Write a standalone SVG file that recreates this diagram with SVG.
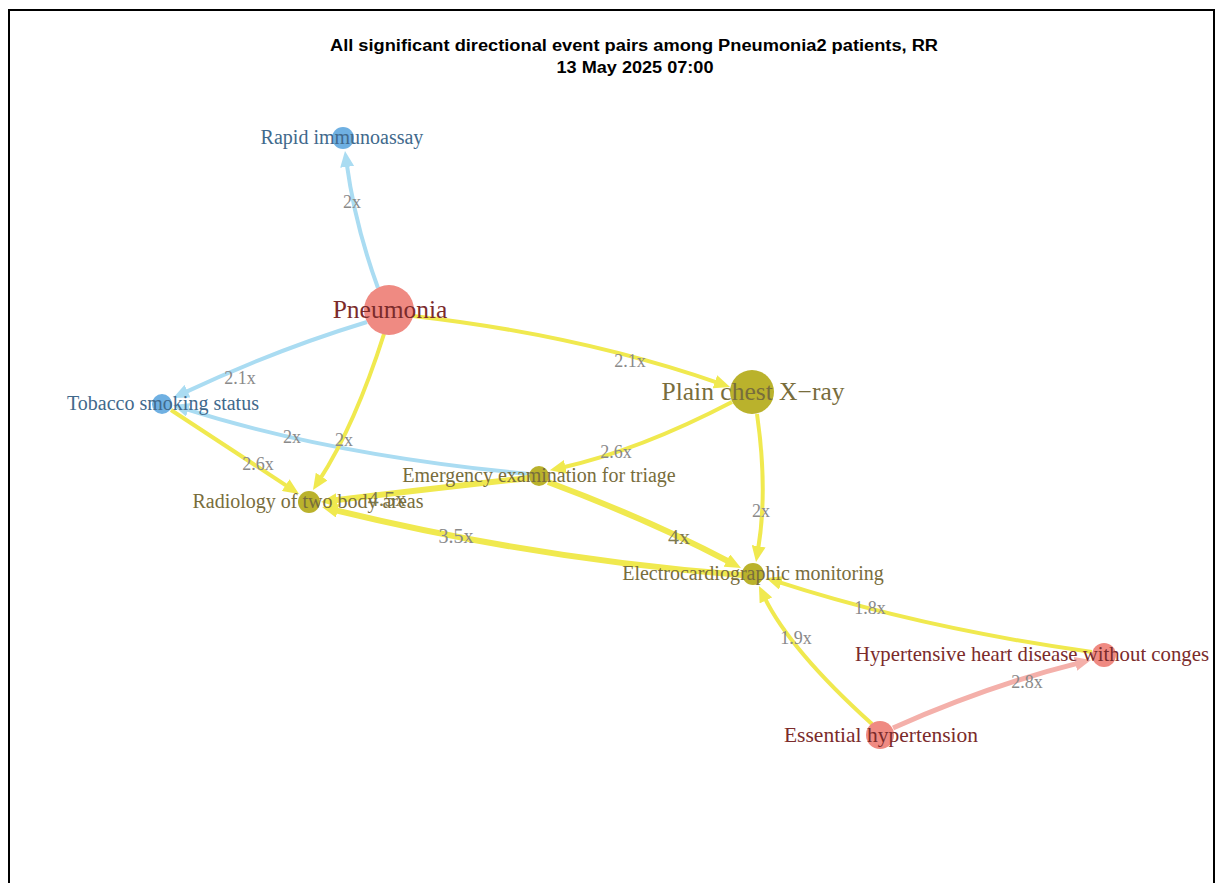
<svg xmlns="http://www.w3.org/2000/svg" width="1217" height="883" viewBox="0 0 1217 883">
<style>
.title{font-family:"Liberation Sans",Arial,sans-serif;font-weight:bold;font-size:16px;fill:#000;text-anchor:middle}
.lbl{font-family:"Liberation Serif","Times New Roman",serif;font-size:20px;text-anchor:middle}
.big{font-size:25.5px}
.pl{font-size:21.5px}
.blue{fill:#41698c}
.pink{fill:#7b2b2b}
.olive{fill:#786d3c}
.el{font-family:"Liberation Serif","Times New Roman",serif;font-size:18px;fill:#8a8a8a;text-anchor:middle}
.el2{font-size:22px;fill:#7e7a50}
.ey{fill:none;stroke:#f0e94f;stroke-width:4}
.eyt{fill:none;stroke:#f0e94f;stroke-width:6}
.eb{fill:none;stroke:#aadcf2;stroke-width:4}
.ep{fill:none;stroke:#f4b0aa;stroke-width:5}
.nb{fill:#6fb0e2}
.np{fill:#ef8a82}
.no{fill:#bab22c}
</style>
<defs>
<marker id="ay" markerUnits="userSpaceOnUse" viewBox="0 0 16 14" markerWidth="16" markerHeight="14" refX="4" refY="7" orient="auto"><path d="M0,0 L16,7 L0,14 z" fill="#f0e94f"/></marker>
<marker id="ab" markerUnits="userSpaceOnUse" viewBox="0 0 16 14" markerWidth="16" markerHeight="14" refX="4" refY="7" orient="auto"><path d="M0,0 L16,7 L0,14 z" fill="#aadcf2"/></marker>
<marker id="ap" markerUnits="userSpaceOnUse" viewBox="0 0 16 14" markerWidth="16" markerHeight="14" refX="4" refY="7" orient="auto"><path d="M0,0 L16,7 L0,14 z" fill="#f4b0aa"/></marker>
</defs>
<rect x="9" y="10" width="1205" height="880" fill="#fff" stroke="#000" stroke-width="2"/>
<text class="title" x="634" y="51" textLength="608" lengthAdjust="spacingAndGlyphs">All significant directional event pairs among Pneumonia2 patients, RR</text>
<text class="title" x="635" y="73" textLength="157" lengthAdjust="spacingAndGlyphs">13 May 2025 07:00</text>
<g id="connectors">
<path class="eb" marker-end="url(#ab)" d="M378,288 Q355,225 346.6,162.9"/>
<path class="eb" marker-end="url(#ab)" d="M367,322 Q275,350 183.9,392.9"/>
<path class="eb" marker-end="url(#ab)" d="M529,474 Q330,455 184.4,408.6"/>
<path class="ey" marker-end="url(#ay)" d="M384,334 Q355,425 319.5,479.9"/>
<path class="ey" marker-end="url(#ay)" d="M413,316 Q580,335 718.7,383.1"/>
<path class="ey" marker-end="url(#ay)" d="M171,410 L289,487.4"/>
<path class="ey" marker-end="url(#ay)" d="M732,402 Q640,450 561.5,467.7"/>
<path class="eyt" marker-end="url(#ay)" d="M529,478 Q420,490 332.9,500.6"/>
<path class="eyt" marker-end="url(#ay)" d="M742,575 Q540,560 333.7,509.8"/>
<path class="eyt" marker-end="url(#ay)" d="M548,482 Q650,520 730.4,562.4"/>
<path class="ey" marker-end="url(#ay)" d="M757,414 Q768,490 758,550.2"/>
<path class="ey" marker-end="url(#ay)" d="M1092,652 Q920,628 777.4,581.7"/>
<path class="ey" marker-end="url(#ay)" d="M872,724 Q790,650 764.2,596.8"/>
<path class="ep" marker-end="url(#ap)" d="M893,728 Q990,685 1079.3,662.9"/>
<text class="el" x="352" y="208">2x</text>
<text class="el" x="240" y="384">2.1x</text>
<text class="el" x="292" y="443">2x</text>
<text class="el" x="344" y="446">2x</text>
<text class="el" x="630" y="367">2.1x</text>
<text class="el" x="258" y="470">2.6x</text>
<text class="el" x="616" y="458">2.6x</text>
<text class="el el2" x="387" y="506">4.5x</text>
<text class="el" x="456" y="543" style="font-size:20px">3.5x</text>
<text class="el el2" x="679" y="544">4x</text>
<text class="el" x="761" y="517">2x</text>
<text class="el" x="870" y="614">1.8x</text>
<text class="el" x="796" y="644">1.9x</text>
<text class="el" x="1027" y="688">2.8x</text>
</g>
<g id="n-rapid"><circle class="nb" cx="343" cy="138" r="11"/><text class="lbl blue" x="342" y="144">Rapid immunoassay</text></g>
<g id="n-tobacco"><circle class="nb" cx="162" cy="404" r="10"/><text class="lbl blue" x="163" y="410">Tobacco smoking status</text></g>
<g id="n-pneumonia"><circle class="np" cx="389" cy="310" r="25"/><text class="lbl big pink" x="390" y="318">Pneumonia</text></g>
<g id="n-xray"><circle class="no" cx="752" cy="392" r="22"/><text class="lbl big olive" x="753" y="400">Plain chest X−ray</text></g>
<g id="n-emergency"><circle class="no" cx="539" cy="476" r="10"/><text class="lbl olive" x="539" y="482">Emergency examination for triage</text></g>
<g id="n-radiology"><circle class="no" cx="309" cy="502" r="11"/><text class="lbl olive" x="308" y="508">Radiology of two body areas</text></g>
<g id="n-ecg"><circle class="no" cx="753" cy="574" r="11"/><text class="lbl olive" x="753" y="580">Electrocardiographic monitoring</text></g>
<g id="n-hypertensive"><circle class="np" cx="1104" cy="655" r="12"/><text class="lbl pl pink" x="855" y="661" style="text-anchor:start" textLength="354" lengthAdjust="spacingAndGlyphs">Hypertensive heart disease without conges</text></g>
<g id="n-essential"><circle class="np" cx="880" cy="735" r="14"/><text class="lbl pl pink" x="881" y="742">Essential hypertension</text></g>
</svg>
